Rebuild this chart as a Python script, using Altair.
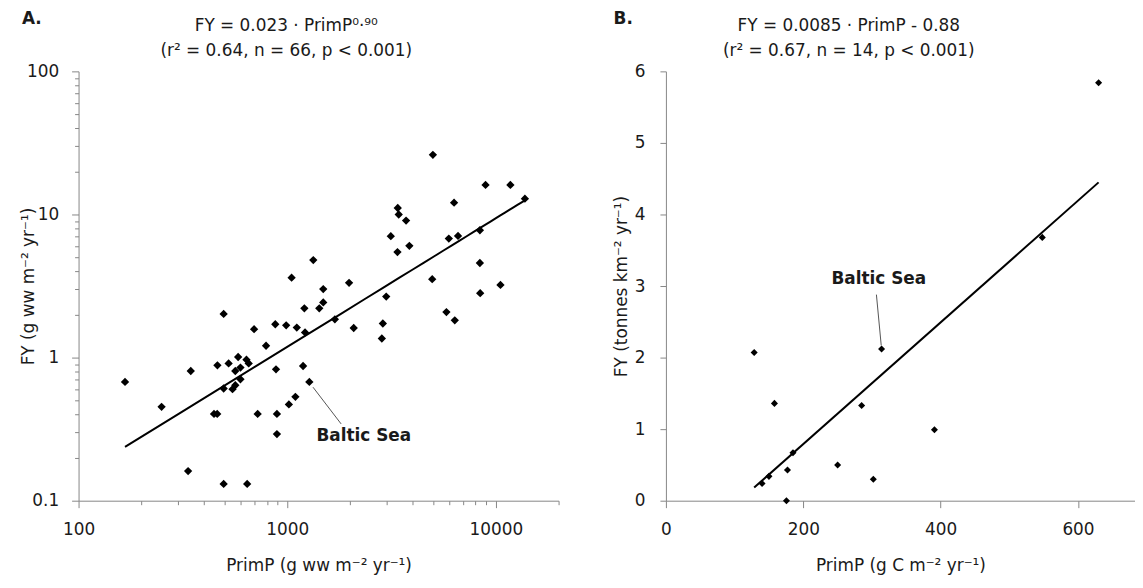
import altair as alt
import pandas as pd

FONT = "DejaVu Sans"
TXT = "#1a1a1a"
AX = "#868686"

# ---------------- Panel A data (log-log) ----------------
a_primp = [1334, 1050, 1489, 1980, 1489, 1425, 1209, 496, 1693, 694, 877, 989, 1112, 1218, 2084, 792,
           4995, 8930, 11750, 13790, 6310, 3389, 3426, 3715, 3139, 5955, 6592, 8390, 3852, 3378,
           4957, 8390, 10530, 8418, 2984, 5799, 6360, 2875, 2843, 167, 250, 345, 463, 524, 582,
           638, 654, 597, 564, 597, 564, 547, 496, 884, 1192, 1277, 1095, 1019, 446, 462, 722, 893, 893, 335, 496, 643]
a_fy = [4.80, 3.62, 3.01, 3.33, 2.43, 2.21, 2.21, 2.02, 1.85, 1.58, 1.71, 1.68, 1.62, 1.50, 1.61, 1.21,
        26.1, 16.1, 16.1, 12.9, 12.1, 11.1, 10.0, 9.06, 7.05, 6.79, 7.08, 7.76, 6.04, 5.46,
        3.53, 4.58, 3.22, 2.82, 2.67, 2.08, 1.82, 1.73, 1.36, 0.676, 0.453, 0.806, 0.883, 0.911, 1.01,
        0.967, 0.911, 0.851, 0.806, 0.706, 0.641, 0.602, 0.608, 0.828, 0.873, 0.676, 0.532, 0.471,
        0.404, 0.404, 0.404, 0.404, 0.292, 0.161, 0.131, 0.131]
a_x_ticks = [100, 200, 300, 400, 500, 600, 700, 800, 900,
             1000, 2000, 3000, 4000, 5000, 6000, 7000, 8000, 9000, 10000, 20000]
a_y_ticks = [0.1, 0.2, 0.3, 0.4, 0.5, 0.6, 0.7, 0.8, 0.9,
             1, 2, 3, 4, 5, 6, 7, 8, 9, 10, 20, 30, 40, 50, 60, 70, 80, 90, 100]
a_title = ["FY = 0.023 · PrimP⁰·⁹⁰", "(r² = 0.64, n = 66, p < 0.001)"]
a_letter = ["A."]
a_label = ["Baltic Sea"]
a_label_x = [2330]
a_label_y = [0.284]
a_lead_x = [1330]
a_lead_y = [0.621]
a_lead_x2 = [1814]
a_lead_y2 = [0.344]

# ---------------- Panel B data (linear) ----------------
b_primp = [630, 548, 128.5, 314, 158, 285, 391, 185, 250, 177, 302, 150, 140, 175.5]
b_fy = [5.84, 3.68, 2.07, 2.12, 1.36, 1.33, 0.99, 0.67, 0.50, 0.43, 0.30, 0.34, 0.24, 0.0]
b_x_ticks = [0, 200, 400, 600]
b_y_ticks = [0, 1, 2, 3, 4, 5, 6]
b_title = ["FY = 0.0085 · PrimP - 0.88", "(r² = 0.67, n = 14, p < 0.001)"]
b_letter = ["B."]
b_label = ["Baltic Sea"]
b_label_x = [310]
b_label_y = [3.10]
b_lead_x = [306.5]
b_lead_y = [2.88]
b_lead_x2 = [313.5]
b_lead_y2 = [2.17]

major = "abs(log(datum.value)/LN10 - round(log(datum.value)/LN10)) < 0.001"

XT_A = "PrimP (g ww m⁻² yr⁻¹)"
YT_A = "FY (g ww m⁻² yr⁻¹)"
XT_B = "PrimP (g C m⁻² yr⁻¹)"
YT_B = "FY (tonnes km⁻² yr⁻¹)"


def header(lines, letter, cx, lx):
    """Two title lines and the panel letter, as text placed above the plot."""
    l1 = alt.Chart(pd.DataFrame({"t": [lines[0]]})).mark_text(
        font=FONT, fontSize=17, color=TXT, align="center", baseline="alphabetic").encode(
        x=alt.value(cx), y=alt.value(-41), text="t:N")
    l2 = alt.Chart(pd.DataFrame({"t": [lines[1]]})).mark_text(
        font=FONT, fontSize=17, color=TXT, align="center", baseline="alphabetic").encode(
        x=alt.value(cx), y=alt.value(-15), text="t:N")
    let = alt.Chart(pd.DataFrame({"t": letter})).mark_text(
        font=FONT, fontSize=17, fontWeight="bold", color=TXT, align="center", baseline="alphabetic").encode(
        x=alt.value(lx), y=alt.value(-48), text="t:N")
    return [l1, l2, let]


# ---------- Panel A ----------
dfA = pd.DataFrame({"PrimP": a_primp, "FY": a_fy})
sxA = alt.Scale(type="log", domain=[100, 20000], nice=False)
syA = alt.Scale(type="log", domain=[0.1, 100], nice=False)
axXA = alt.Axis(values=a_x_ticks, labelExpr=f"{major} ? format(datum.value, '~g') : ''",
                tickSize={"condition": {"test": major, "value": 7}, "value": 4},
                labelOverlap=False, labelPadding=14, titlePadding=20, labelFlush=False)
axYA = alt.Axis(values=a_y_ticks, labelExpr=f"{major} ? format(datum.value, '~g') : ''",
                tickSize={"condition": {"test": major, "value": 7}, "value": 4},
                labelOverlap=False, labelPadding=13, titleX=-41, titleY=216, labelFlush=False)

ptsA = alt.Chart(dfA).mark_point(shape="diamond", filled=True, size=70, color="black", opacity=1).encode(
    x=alt.X("PrimP:Q", scale=sxA, axis=axXA, title=XT_A),
    y=alt.Y("FY:Q", scale=syA, axis=axYA, title=YT_A),
)
fitA = alt.Chart(dfA).transform_regression("PrimP", "FY", method="pow").mark_line(
    color="black", strokeWidth=2).encode(
    x=alt.X("PrimP:Q", scale=sxA, title=XT_A),
    y=alt.Y("FY:Q", scale=syA, title=YT_A),
)
labA = alt.Chart(pd.DataFrame({"PrimP": a_label_x, "FY": a_label_y, "t": a_label})).mark_text(
    font=FONT, fontSize=17, fontWeight="bold", color=TXT).encode(
    x=alt.X("PrimP:Q", scale=sxA, title=XT_A),
    y=alt.Y("FY:Q", scale=syA, title=YT_A), text="t:N")
leadA = alt.Chart(pd.DataFrame({"PrimP": a_lead_x, "FY": a_lead_y, "P2": a_lead_x2, "F2": a_lead_y2})).mark_rule(
    color="#555555", strokeWidth=1).encode(
    x=alt.X("PrimP:Q", scale=sxA, title=XT_A), y=alt.Y("FY:Q", scale=syA, title=YT_A),
    x2="P2:Q", y2="F2:Q")

chartA = alt.layer(fitA, ptsA, leadA, labA, *header(a_title, a_letter, 209, -47)).properties(
    width=483, height=432)

# ---------- Panel B ----------
dfB = pd.DataFrame({"PrimP": b_primp, "FY": b_fy})
sxB = alt.Scale(domain=[0, 683], nice=False, zero=True)
syB = alt.Scale(domain=[0, 6], nice=False)
axXB = alt.Axis(values=b_x_ticks, tickSize=7, labelPadding=14, titlePadding=20, labelFlush=False, format="d")
axYB = alt.Axis(values=b_y_ticks, tickSize=6, labelPadding=15, titleX=-36, titleY=216, labelFlush=False,
                format="d")

ptsB = alt.Chart(dfB).mark_point(shape="diamond", filled=True, size=50, color="black", opacity=1).encode(
    x=alt.X("PrimP:Q", scale=sxB, axis=axXB, title=XT_B),
    y=alt.Y("FY:Q", scale=syB, axis=axYB, title=YT_B),
)
fitB = alt.Chart(dfB).transform_regression("PrimP", "FY", method="linear").mark_line(
    color="black", strokeWidth=2).encode(
    x=alt.X("PrimP:Q", scale=sxB, title=XT_B),
    y=alt.Y("FY:Q", scale=syB, title=YT_B),
)
labB = alt.Chart(pd.DataFrame({"PrimP": b_label_x, "FY": b_label_y, "t": b_label})).mark_text(
    font=FONT, fontSize=17, fontWeight="bold", color=TXT).encode(
    x=alt.X("PrimP:Q", scale=sxB, title=XT_B),
    y=alt.Y("FY:Q", scale=syB, title=YT_B), text="t:N")
leadB = alt.Chart(pd.DataFrame({"PrimP": b_lead_x, "FY": b_lead_y, "P2": b_lead_x2, "F2": b_lead_y2})).mark_rule(
    color="#555555", strokeWidth=1).encode(
    x=alt.X("PrimP:Q", scale=sxB, title=XT_B), y=alt.Y("FY:Q", scale=syB, title=YT_B),
    x2="P2:Q", y2="F2:Q")

chartB = alt.layer(fitB, ptsB, leadB, labB, *header(b_title, b_letter, 184, -43)).properties(
    width=472, height=432)

chart = alt.hconcat(chartA, chartB, spacing=53).properties(
    padding={"left": 12, "top": 0, "right": 0, "bottom": 0}
).configure_view(stroke=None).configure_axis(
    grid=False, labelFont=FONT, titleFont=FONT, labelFontSize=17, titleFontSize=17,
    labelColor=TXT, titleColor=TXT, titleFontWeight="normal",
    domainColor=AX, tickColor=AX, domainWidth=1, tickWidth=1,
)

chart.save("out.html", embed_options={"renderer": "svg", "actions": False})
